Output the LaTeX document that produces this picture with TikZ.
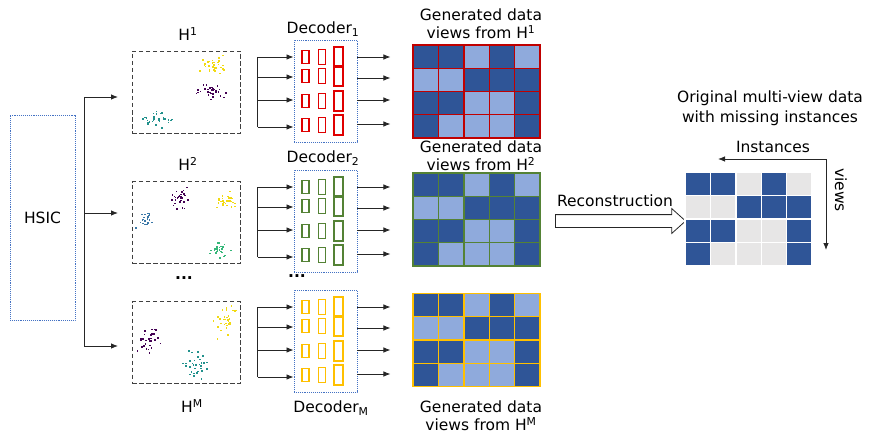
\documentclass[tikz,border=0pt]{standalone}
\usepackage{fontspec}
\setmainfont{DejaVu Sans}
\usetikzlibrary{positioning,calc,arrows.meta,shapes.arrows}
\definecolor{hsic_blue}{HTML}{4472C4}
\definecolor{cell_dark}{HTML}{2F5597}
\definecolor{cell_light}{HTML}{8FAADC}
\definecolor{cell_gray}{HTML}{E7E6E6}
\definecolor{dec_red}{HTML}{E00000}
\definecolor{frame_red}{HTML}{C00000}
\definecolor{dec_green}{HTML}{548235}
\definecolor{dec_gold}{HTML}{FFC000}
\definecolor{vir_purple}{HTML}{440154}
\definecolor{vir_teal}{HTML}{21918C}
\definecolor{vir_yellow}{HTML}{F2DA10}
\definecolor{vir_blue}{HTML}{3B78A8}
\definecolor{vir_green}{HTML}{35B779}
\tikzset{
  dotbox/.style={draw=hsic_blue, densely dotted, line width=0.9pt, inner sep=0pt},
  scatterbox/.style={draw=black!75, dash pattern=on 4.5pt off 2.5pt, line width=0.8pt,
                     minimum width=108, minimum height=82, inner sep=0pt},
  gridframe/.style={minimum width=127, minimum height=93, inner sep=0pt, outer sep=0pt},
  unit/.style={line width=1.1pt},
  line/.style={draw=black!85, line width=0.8pt},
  arrow/.style={line, -{Latex[length=7pt,width=5.5pt]}},
  caption/.style={font=\fontsize{15.5}{18}\selectfont, align=center, inner sep=0pt},
  hollow/.style={single arrow, draw=black!85, line width=0.8pt, inner xsep=0pt,
                 inner ysep=6pt, minimum height=130, single arrow head extend=6,
                 single arrow tip angle=84},
}
\newcommand{\cellw}{25.4}
\newcommand{\cellh}{23.25}
\newcommand{\darkcells}{1/1,2/1,4/1,3/2,4/2,5/2,1/3,2/3,5/3,1/4,5/4}
\newcommand{\viewgrid}[5]{%
  \node[gridframe] (#1) at (#2,#3) {};
  \begin{scope}[shift={(#1.north west)}]
    \fill[#5] (0,0) rectangle ({5*\cellw},{4*\cellh});
    \foreach \c/\r in \darkcells
      \fill[cell_dark] ({(\c-1)*\cellw},{(\r-1)*\cellh}) rectangle ++(\cellw,\cellh);
    \foreach \c in {1,...,4}
      \draw[draw=#4, line width=1.4pt] ({\c*\cellw},0) -- ({\c*\cellw},{4*\cellh});
    \foreach \r in {1,2,3}
      \draw[draw=#4, line width=1.4pt] (0,{\r*\cellh}) -- ({5*\cellw},{\r*\cellh});
  \end{scope}
  \draw[draw=#4, line width=1.8pt] (#1.north west) rectangle (#1.south east);
}
\newcommand{\decoder}[4]{%
  \node[dotbox, minimum width=63, minimum height=102] (#1) at (#2,#3) {};
  \foreach \dy in {-34,-15,10,34} {
    \draw[unit, draw=#4] ($(#1.center)+(-23.5,\dy-6.5)$) rectangle ++(7,13);
    \draw[unit, draw=#4] ($(#1.center)+(-7,\dy-7.5)$) rectangle ++(7,15);
    \draw[unit, draw=#4] ($(#1.center)+(8.5,\dy-10)$) rectangle ++(9,20);
  }
  % fan in and out
  \coordinate (#1-bar-top) at ($(#1.west)+(-36,-34)$);
  \coordinate (#1-bar-bot) at ($(#1.west)+(-36,36)$);
  \draw[line] (#1-bar-top) -- (#1-bar-bot);
  \foreach \dy in {-34,-14,9,36}
    \draw[arrow] ($(#1.west)+(-36,\dy)$) -- ($(#1.west)+(0,\dy)$);
  \foreach \dy in {-34,-13,9,33}
    \draw[arrow] ($(#1.east)+(0,\dy)$) -- ++(33,0);
}
\newcommand{\cluster}[6]{%
  \foreach \p in {1,...,#6}
    \fill[#1] ({#2+#4*(rand+rand+rand)/3},{#3+#5*(rand+rand+rand)/3}) rectangle ++(1.6,1.6);
}

\begin{document}
\begin{tikzpicture}[x=1pt, y=-1pt]
  \useasboundingbox (0,0) rectangle (871,436);
  \pgfmathsetseed{11}

  % --- HSIC and its bus ----------------------------------------------------
  \node[dotbox, minimum width=65, minimum height=205, caption] (hsic) at (42.5,217.5) {HSIC};
  \coordinate (bus-top) at (84,97);
  \coordinate (bus-mid) at (84,213);
  \coordinate (bus-bot) at (84,346);
  \draw[line] (bus-top) -- (bus-bot);
  \foreach \b in {top,mid,bot}
    \draw[arrow] (bus-\b) -- ++(34,0);

  % --- latent representations ----------------------------------------------
  \node[scatterbox] (h1) at (186,92) {};
  \node[scatterbox] (h2) at (186,222.5) {};
  \node[scatterbox] (h3) at (186,342.5) {};
  \cluster{vir_yellow}{210}{65}{20}{13}{32}
  \cluster{vir_purple}{212}{91}{22}{10}{32}
  \cluster{vir_teal}{157}{118}{26}{13}{32}
  \cluster{vir_purple}{180}{198}{15}{14}{30}
  \cluster{vir_yellow}{225}{200}{14}{12}{30}
  \cluster{vir_blue}{144}{219}{12}{11}{22}
  \cluster{vir_green}{217}{248}{18}{12}{30}
  \cluster{vir_purple}{148}{340}{17}{22}{32}
  \cluster{vir_yellow}{225}{324}{15}{24}{32}
  \cluster{vir_teal}{195}{362}{18}{20}{32}
  \node[caption] (h1-title) at (188,34) {H\textsuperscript{1}};
  \node[caption] (h2-title) at (188,164) {H\textsuperscript{2}};
  \node[caption] (h-dots) at (184,278) {\textbf{...}};
  \node[caption] (h3-title) at (192,406) {H\textsuperscript{M}};

  % --- decoders --------------------------------------------------------------
  \decoder{dec1}{325.5}{91}{dec_red}
  \decoder{dec2}{325.5}{221}{dec_green}
  \decoder{dec3}{325.5}{341}{dec_gold}
  \node[caption] (dec1-title) at (323,29) {Decoder\textsubscript{1}};
  \node[caption] (dec2-title) at (323,158) {Decoder\textsubscript{2}};
  \node[caption] (dec-dots) at (297,276) {\textbf{...}};
  \node[caption] (dec3-title) at (331,408) {Decoder\textsubscript{M}};

  % --- generated views ---------------------------------------------------------
  \viewgrid{gen1}{476.5}{91.5}{frame_red}{cell_light}
  \viewgrid{gen2}{476.5}{219.5}{dec_green}{cell_light}
  \viewgrid{gen3}{476.5}{340}{dec_gold}{cell_light}
  \node[caption] (gen1-title) at (481,24) {Generated data\\views from H\textsuperscript{1}};
  \node[caption] (gen2-title) at (481,156) {Generated data\\views from H\textsuperscript{2}};
  \node[caption] (gen3-title) at (481,416) {Generated data\\views from H\textsuperscript{M}};

  % --- reconstruction of the incomplete data -----------------------------------
  \node[hollow] (recon) at (617,221) {};
  \node[caption] (recon-title) at (615,201) {Reconstruction};
  \viewgrid{orig}{748.5}{219}{white}{cell_gray}
  \node[caption, font=\fontsize{15.5}{20}\selectfont] (orig-title) at (770,108)
    {Original multi-view data\\with missing instances};
  \coordinate (axis-corner) at (826,159);
  \coordinate (axis-inst) at (718,159);
  \coordinate (axis-view) at (826,250);
  \draw[arrow] (axis-corner) -- (axis-inst);
  \draw[arrow] (axis-corner) -- (axis-view);
  \node[caption] (inst-title) at (773,147) {Instances};
  \node[caption, rotate=-90] (view-title) at (841,190) {views};

\end{tikzpicture}
\end{document}
